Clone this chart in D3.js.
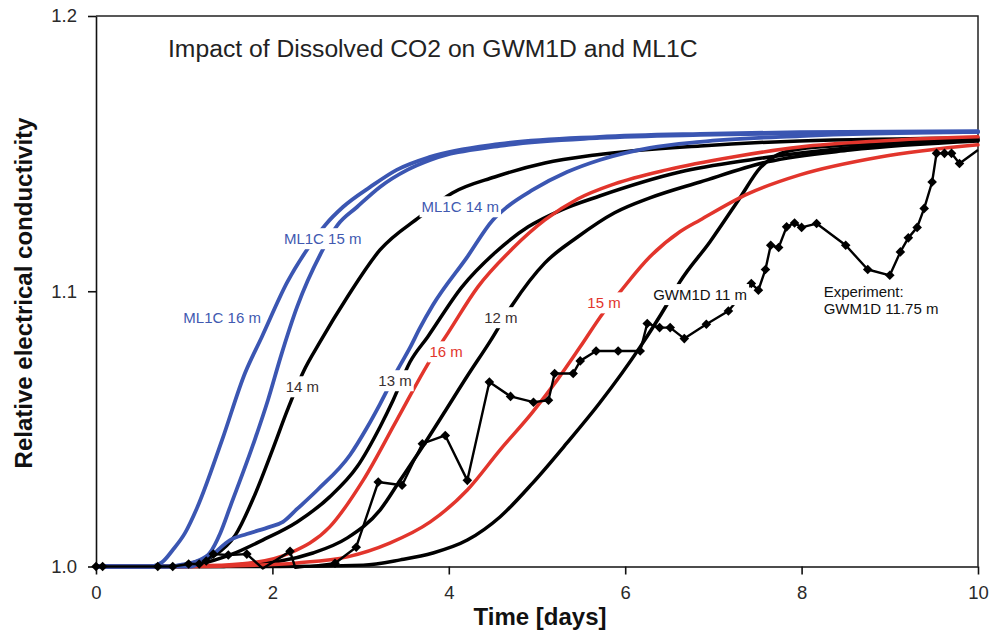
<!DOCTYPE html>
<html>
<head>
<meta charset="utf-8">
<script src="https://cdn.jsdelivr.net/npm/d3@7"></script>
<style>
  html, body { margin: 0; padding: 0; background: #fff; }
  svg { display: block; font-family: "Liberation Sans", Arial, Helvetica, sans-serif; }
</style>
</head>
<body>
<svg id="chart" width="1003" height="635"></svg>
<script>
// Axis ticks
const xTicks = [0, 2, 4, 6, 8, 10];
const yTicks = [1.0, 1.1, 1.2];

// Simulated breakthrough curves, [time (days), relative EC]
const ml1c16 = [[0,1.0],[0.39,1.0],[0.61,1.0],[0.75,1.0016],[0.87,1.006],[1.01,1.0122],[1.15,1.0216],[1.43,1.046],[1.69,1.0703],[1.88,1.0834],[2.17,1.1034],[2.39,1.115],[2.60,1.1241],[2.80,1.1306],[3.11,1.1379],[3.41,1.1441],[3.79,1.1488],[4.58,1.1535],[5.71,1.1561],[6.85,1.1572],[7.98,1.1578],[10,1.1582]];
const ml1c15 = [[0,1.0],[0.6,1.0],[0.84,1.0],[1.01,1.0009],[1.15,1.002],[1.29,1.0049],[1.41,1.0122],[1.52,1.0216],[1.80,1.046],[1.95,1.0605],[2.10,1.0768],[2.28,1.0943],[2.57,1.115],[2.74,1.1241],[2.96,1.1306],[3.22,1.1379],[3.53,1.1441],[3.79,1.1477],[4.58,1.1528],[5.71,1.1557],[6.85,1.1568],[10,1.1579]];
const ml1c14 = [[0,1.0],[0.8,1.0],[1.07,1.0],[1.18,1.0013],[1.29,1.0035],[1.52,1.0096],[1.71,1.0118],[1.97,1.0144],[2.12,1.0162],[2.28,1.0209],[2.51,1.0278],[2.88,1.0405],[3.07,1.0503],[3.22,1.059],[3.42,1.0715],[3.56,1.0795],[3.67,1.0865],[3.82,1.095],[4.21,1.1125],[4.50,1.1259],[4.66,1.1306],[4.95,1.1368],[5.34,1.1433],[5.71,1.1477],[6.28,1.1521],[6.85,1.1543],[7.98,1.1564],[10,1.1579]];
const gwm14 = [[0,1.0],[0.78,1.0],[1.12,1.0016],[1.35,1.0042],[1.58,1.0114],[1.80,1.026],[2.00,1.0423],[2.17,1.0568],[2.35,1.0707],[2.54,1.0816],[2.85,1.0979],[3.22,1.115],[3.67,1.127],[4.04,1.1357],[4.52,1.1415],[5.09,1.1466],[5.66,1.1495],[6.85,1.1528],[7.98,1.1546],[10,1.1557]];
const gwm13 = [[0,1.0],[0.95,1.0],[1.52,1.0042],[1.89,1.0096],[2.28,1.0162],[2.65,1.0253],[2.96,1.0362],[3.22,1.0507],[3.37,1.0605],[3.56,1.0743],[3.76,1.0834],[4.15,1.1016],[4.52,1.1139],[4.90,1.1234],[5.28,1.1296],[5.71,1.1346],[6.62,1.1433],[7.41,1.1477],[8.55,1.1521],[10,1.155]];
const gwm12 = [[0,1.0],[1.41,1.0],[1.75,1.0011],[2.09,1.002],[2.46,1.0049],[2.85,1.0104],[3.22,1.0205],[3.45,1.0314],[3.70,1.0434],[3.96,1.0565],[4.21,1.0692],[4.47,1.0819],[4.72,1.095],[5.09,1.1103],[5.46,1.1197],[5.88,1.1285],[6.28,1.1339],[6.85,1.1397],[7.61,1.147],[8.55,1.1513],[10,1.1546]];
const gwm11 = [[0,1.0],[2.09,1.0],[3.03,1.0005],[3.45,1.0024],[3.82,1.0049],[4.21,1.0096],[4.58,1.018],[4.95,1.0303],[5.34,1.0449],[5.71,1.0594],[6.17,1.0798],[6.47,1.095],[6.62,1.1034],[6.96,1.1179],[7.30,1.1339],[7.53,1.1448],[7.72,1.1495],[7.98,1.1517],[8.55,1.1532],[10,1.155]];
const red16 = [[0,1.0],[1.0,1.0],[1.18,1.0002],[1.75,1.0013],[2.20,1.0049],[2.65,1.0144],[3.03,1.0314],[3.41,1.0532],[3.79,1.075],[3.99,1.0848],[4.33,1.1016],[4.72,1.1154],[5.09,1.1259],[5.46,1.1335],[5.88,1.139],[6.47,1.1441],[7.22,1.1488],[7.98,1.1524],[8.89,1.1546],[10,1.1561]];
const red15 = [[0,1.0],[1.2,1.0],[1.52,1.0002],[2.28,1.0013],[2.85,1.0035],[3.33,1.0085],[3.79,1.0162],[4.21,1.0278],[4.58,1.0423],[4.95,1.0561],[5.23,1.0678],[5.49,1.0798],[5.75,1.0921],[5.94,1.0997],[6.28,1.1125],[6.62,1.1216],[6.85,1.1259],[7.39,1.1354],[7.98,1.1423],[8.89,1.1488],[10,1.1532]];

// Measured data, GWM1D 11.75 m
const expTime = [0,0.075,0.70,0.87,1.05,1.17,1.25,1.33,1.50,1.71,1.89,2.20,2.26,2.71,2.95,3.20,3.47,3.70,3.96,4.21,4.46,4.70,4.96,5.13,5.20,5.41,5.49,5.67,5.92,6.17,6.25,6.39,6.51,6.67,6.92,7.17,7.43,7.51,7.59,7.65,7.74,7.83,7.92,8.00,8.17,8.50,8.75,9.00,9.12,9.21,9.31,9.39,9.48,9.53,9.62,9.70,9.79,10.0];
const expValue = [1.0,1.0,1.0,1.0,1.0009,1.0009,1.002,1.0045,1.0042,1.0045,0.9993,1.0055,0.9995,1.0012,1.007,1.0307,1.0295,1.0446,1.0476,1.0313,1.067,1.0618,1.0597,1.0604,1.0701,1.0701,1.0747,1.0783,1.0783,1.0783,1.0883,1.0868,1.0868,1.0828,1.088,1.0928,1.1028,1.1004,1.1079,1.1167,1.1159,1.1234,1.1248,1.1232,1.1246,1.1167,1.1079,1.1058,1.1143,1.1194,1.1232,1.1301,1.1397,1.1501,1.1501,1.1501,1.1464,1.1513];

// Curve labels, centred at [time, EC]
const labelText  = ["ML1C 16 m","ML1C 15 m","ML1C 14 m","14 m","13 m","16 m","12 m","15 m","GWM1D 11 m"];
const labelTime  = [1.43, 2.57, 4.13, 2.34, 3.39, 3.97, 4.59, 5.76, 6.85];
const labelValue = [1.0903, 1.1190, 1.1306, 1.0652, 1.0674, 1.0779, 1.0903, 1.0957, 1.0987];

const BLUE = "#3b56b2", RED = "#e2352c", BLACK = "#000";
const labelColor = ["#4159b0","#4159b0","#4159b0","#3a3030","#3a3030","#e2352c","#3a3030","#e2352c","#111"];

const svg = d3.select("#chart");
const W = 1003, H = 635;
svg.append("rect").attr("width", W).attr("height", H).attr("fill", "#fff");

const x = d3.scaleLinear().domain([0, 10]).range([96, 978]);
const y = d3.scaleLinear().domain([1.0, 1.2]).range([566.5, 16]);

// Frame (top and right edges)
svg.append("path")
  .attr("d", `M${x(0)},${y(1.2)}H${x(10)}V${y(1.0)}`)
  .attr("fill", "none").attr("stroke", "#222").attr("stroke-width", 1.5);

// Axes
const xAxis = svg.append("g").attr("transform", `translate(0,${y(1.0)})`)
  .call(d3.axisBottom(x).tickValues(xTicks).tickSize(8).tickPadding(11).tickSizeOuter(0).tickFormat(d3.format("d")));
const yAxis = svg.append("g").attr("transform", `translate(${x(0)},0)`)
  .call(d3.axisLeft(y).tickValues(yTicks).tickSize(8).tickPadding(11).tickSizeOuter(0).tickFormat(d3.format(".1f")));
[xAxis, yAxis].forEach(g => {
  g.select(".domain").attr("stroke", "#111").attr("stroke-width", 1.6);
  g.selectAll(".tick line").attr("stroke", "#111").attr("stroke-width", 1.6);
  g.selectAll(".tick text").attr("font-size", 18.5).attr("fill", "#2a2a2a")
    .attr("font-family", "'Liberation Sans', Arial, sans-serif");
});

// Axis titles
svg.append("text").attr("x", 540).attr("y", 625).attr("text-anchor", "middle")
  .attr("font-size", 24).attr("font-weight", "bold").attr("fill", "#111").text("Time [days]");
svg.append("text").attr("transform", "translate(32,293) rotate(-90)").attr("text-anchor", "middle")
  .attr("font-size", 24).attr("font-weight", "bold").attr("fill", "#111").text("Relative electrical conductivity");

// Chart title
svg.append("text").attr("x", 168).attr("y", 57).attr("font-size", 24.7).attr("fill", "#222")
  .text("Impact of Dissolved CO2 on GWM1D and ML1C");

// Simulated curves
const line = d3.line().x(d => x(d[0])).y(d => y(d[1])).curve(d3.curveMonotoneX);
const sims = [
  {data: gwm11, color: BLACK, w: 3.5},
  {data: gwm12, color: BLACK, w: 3.5},
  {data: gwm13, color: BLACK, w: 3.5},
  {data: gwm14, color: BLACK, w: 3.5},
  {data: red15, color: RED, w: 3.5},
  {data: red16, color: RED, w: 3.5},
  {data: ml1c14, color: BLUE, w: 3.8},
  {data: ml1c15, color: BLUE, w: 3.8},
  {data: ml1c16, color: BLUE, w: 3.8}
];
svg.append("g").selectAll("path").data(sims).join("path")
  .attr("d", d => line(d.data)).attr("fill", "none")
  .attr("stroke", d => d.color).attr("stroke-width", d => d.w)
  .attr("stroke-linejoin", "round").attr("stroke-linecap", "round");

// Experiment
const expData = expTime.map((t, i) => [t, expValue[i]]);
svg.append("path")
  .attr("d", d3.line().x(d => x(d[0])).y(d => y(d[1]))(expData))
  .attr("fill", "none").attr("stroke", "#000").attr("stroke-width", 2.4).attr("stroke-linejoin", "round");
const diamond = d3.symbol().type(d3.symbolSquare).size(46);
svg.append("g").selectAll("path").data(expData.filter(d => d[1] >= 1.0 && d[0] < 10)).join("path")
  .attr("d", diamond)
  .attr("transform", d => `translate(${x(d[0])},${y(d[1])}) rotate(45)`)
  .attr("fill", "#000");

// Curve labels on white boxes
const lab = svg.append("g").attr("font-size", 15);
labelText.forEach((t, i) => {
  const g = lab.append("g");
  const tx = g.append("text").attr("x", x(labelTime[i])).attr("y", y(labelValue[i]))
    .attr("dy", "0.35em").attr("text-anchor", "middle").attr("fill", labelColor[i]).text(t);
  const b = tx.node().getBBox();
  g.insert("rect", "text").attr("x", b.x - 2).attr("y", b.y - 2)
    .attr("width", b.width + 4).attr("height", b.height + 4).attr("fill", "#fff");
});

// Experiment annotation
lab.append("text").attr("x", x(8.25)).attr("y", y(1.0997)).attr("dy", "0.35em").attr("fill", "#111").text("Experiment:");
lab.append("text").attr("x", x(8.25)).attr("y", y(1.0936)).attr("dy", "0.35em").attr("fill", "#111").text("GWM1D 11.75 m");
</script>
</body>
</html>
